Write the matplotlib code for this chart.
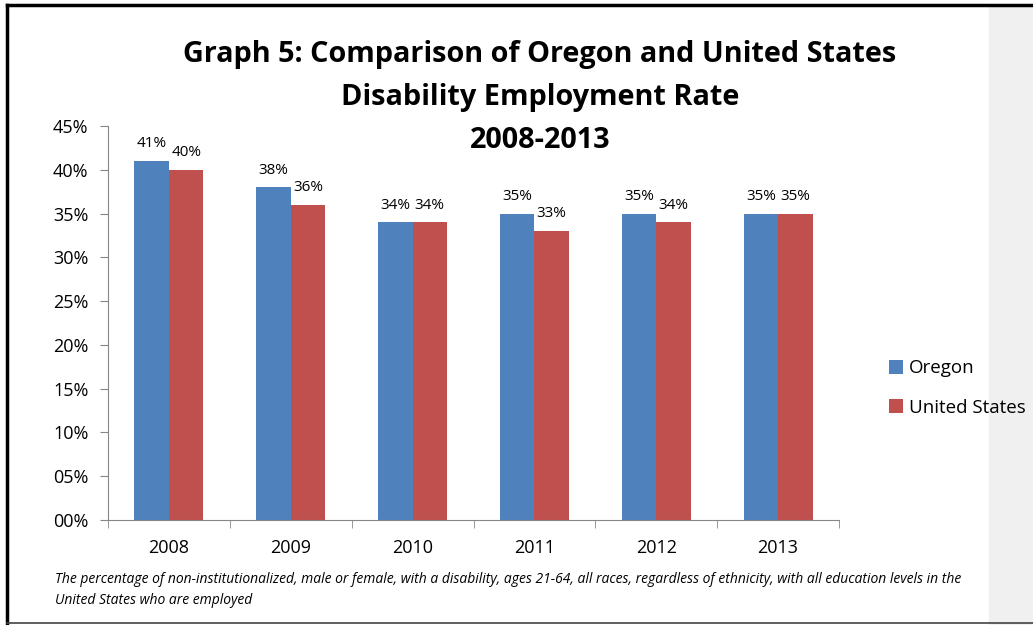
import numpy as np
import matplotlib.pyplot as plt
import matplotlib as mpl
from matplotlib.patches import Rectangle
from matplotlib.lines import Line2D

mpl.rcParams.update({'font.family': ['Open Sans', 'DejaVu Sans']})

years = ['2008', '2009', '2010', '2011', '2012', '2013']
oregon = [41, 38, 34, 35, 35, 35]
united_states = [40, 36, 34, 33, 34, 35]
series_names = ['Oregon', 'United States']
title_lines = ['Graph 5: Comparison of Oregon and United States',
               'Disability Employment Rate', '2008-2013']
note = ('The percentage of non-institutionalized, male or female, with a '
        'disability, ages 21-64, all races, regardless of ethnicity, with all '
        'education levels in the\nUnited States who are employed')

W, H = 1033, 625
fig = plt.figure(figsize=(W / 100, H / 100), dpi=100)

# grey side strip and frame lines
fig.patches.append(Rectangle((989 / W, 0), (W - 989) / W, 1 - 6 / H,
                             transform=fig.transFigure, color='#f0f0f0',
                             zorder=0))
fig.lines.append(Line2D([6.5 / W, 1], [1 - 4.5 / H, 1 - 4.5 / H],
                        transform=fig.transFigure, color='black', lw=2.5))
fig.lines.append(Line2D([6.5 / W, 6.5 / W], [1 - 4.5 / H, 2.5 / H],
                        transform=fig.transFigure, color='black', lw=2.5))
fig.lines.append(Line2D([6.5 / W, 1], [2.5 / H, 2.5 / H],
                        transform=fig.transFigure, color='#444444', lw=1.2))

ax = fig.add_axes([108 / W, (H - 520) / H, (839 - 108) / W, 394 / H])
ax.patch.set_alpha(0)

x = np.arange(len(years))
w = 0.283
b1 = ax.bar(x - w / 2, oregon, w, color='#4F81BD', label=series_names[0])
b2 = ax.bar(x + w / 2, united_states, w, color='#C0504D',
            label=series_names[1])
for bars in (b1, b2):
    for r in bars:
        ax.annotate('{:d}%'.format(int(r.get_height())),
                    (r.get_x() + r.get_width() / 2, r.get_height()),
                    xytext=(0, 7), textcoords='offset points',
                    ha='center', va='bottom', fontsize=11)

ax.set_xlim(-0.5, len(years) - 0.5)
ax.set_ylim(0, 45)
ax.set_yticks(np.arange(0, 46, 5))
ax.set_yticklabels(['{:02d}%'.format(v) for v in range(0, 46, 5)],
                   fontsize=13)
ax.set_xticks(x)
ax.set_xticklabels(years, fontsize=13)
ax.set_xticks(np.arange(-0.5, len(years), 1), minor=True)
ax.tick_params(axis='x', which='major', length=0, pad=14)
ax.tick_params(axis='x', which='minor', length=6, color='#868686')
ax.tick_params(axis='y', length=6, color='#868686', pad=8)
for s in ['top', 'right']:
    ax.spines[s].set_visible(False)
for s in ['left', 'bottom']:
    ax.spines[s].set_color('#868686')

# title, one text per line
for i, line in enumerate(title_lines):
    fig.text(540 / W, 1 - (62 + 43 * i) / H, line, ha='center',
             va='baseline', fontsize=20.8, fontweight='bold')

fig.legend(handles=[b1, b2], loc='center left',
           bbox_to_anchor=(880 / W, 1 - 388 / H), frameon=False,
           fontsize=13.5, handlelength=0.75, handleheight=0.75,
           handletextpad=0.3, labelspacing=1.15, borderpad=0)

fig.text(55 / W, 1 - 590 / H, note, ha='left', va='center', fontsize=10,
         style='italic', linespacing=1.5)

fig.savefig('out.png', dpi=100)
